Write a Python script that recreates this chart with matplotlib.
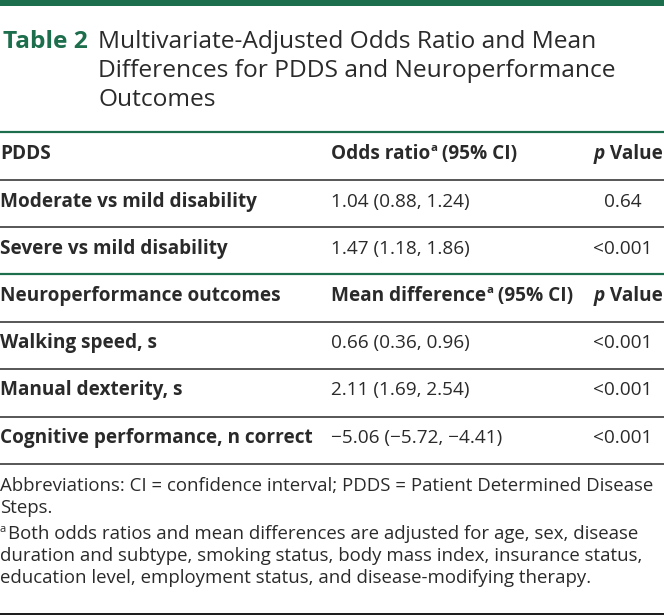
import matplotlib
matplotlib.use("Agg")
import matplotlib.pyplot as plt
from matplotlib import font_manager

# ---- data ----
table_label = "Table 2"
title_lines = ["Multivariate-Adjusted Odds Ratio and Mean",
               "Differences for PDDS and Neuroperformance",
               "Outcomes"]
pdds_rows = ["Moderate vs mild disability", "Severe vs mild disability"]
pdds_or_ci = ["1.04 (0.88, 1.24)", "1.47 (1.18, 1.86)"]
pdds_p = ["0.64", "<0.001"]
neuro_rows = ["Walking speed, s", "Manual dexterity, s", "Cognitive performance, n correct"]
neuro_md_ci = ["0.66 (0.36, 0.96)", "2.11 (1.69, 2.54)", "\u22125.06 (\u22125.72, \u22124.41)"]
neuro_p = ["<0.001", "<0.001", "<0.001"]
footnote_lines = [
    "Abbreviations: CI = confidence interval; PDDS = Patient Determined Disease",
    "Steps.",
    "Both odds ratios and mean differences are adjusted for age, sex, disease",
    "duration and subtype, smoking status, body mass index, insurance status,",
    "education level, employment status, and disease-modifying therapy.",
]

GREEN = "#1d6e4c"
TXT = "#2a2a2a"
GRAY = "#5a5a5a"
FONT = "Open Sans"
names = {f.name for f in font_manager.fontManager.ttflist}
NARROW = "Liberation Sans Narrow" if "Liberation Sans Narrow" in names else FONT

W, H = 664, 615
fig = plt.figure(figsize=(W / 100, H / 100), dpi=100)
ax = fig.add_axes([0, 0, 1, 1])
ax.set_xlim(0, W)
ax.set_ylim(H, 0)
ax.axis("off")
fig.canvas.draw()
renderer = fig.canvas.get_renderer()


def px(v):
    return v * 0.72


def hline(y, color, lw_px):
    ax.plot([0, W], [y, y], color=color, lw=px(lw_px), solid_capstyle="butt")


def width_of(t):
    bb = t.get_window_extent(renderer=renderer)
    return bb.width


def pieces(x, y, parts, align="left"):
    """parts: list of (text, dict(fontsize, weight, style, dy))"""
    objs = []
    for s, kw in parts:
        kw = dict(kw)
        dy = kw.pop("dy", 0)
        t = ax.text(0, y + dy, s, va="center", ha="left", family=FONT, color=TXT, **kw)
        objs.append(t)
    widths = [width_of(t) for t in objs]
    total = sum(widths)
    start = x if align == "left" else (x - total if align == "right" else x - total / 2)
    cx = start
    for t, w in zip(objs, widths):
        t.set_x(cx)
        cx += w
    return objs


# top bar
ax.add_patch(plt.Rectangle((0, 0), W, 6, color=GREEN, lw=0))

# title
TS = px(24.5)
ax.text(3, 42, table_label, family=FONT, weight="bold", fontsize=TS, color=GREEN, va="center")
for i, line in enumerate(title_lines):
    ax.text(98, 42 + i * 29, line, family=FONT, fontsize=TS, color=TXT, va="center")

FS = px(19)
B = dict(fontsize=FS, weight="bold")
R = dict(fontsize=FS)
SUP = dict(fontsize=FS * 0.6, weight="bold", dy=-5.5)

C1, C2, C3 = 0, 331, 663
PC = 623

hline(132, GREEN, 2.2)
# PDDS header
ax.text(C1, 154, "PDDS", family=FONT, color=TXT, va="center", **B)
pieces(C2, 154, [("Odds ratio", B), ("a", SUP), (" (95% CI)", B)])
pieces(C3, 154, [("p", dict(fontsize=FS, weight="bold", style="italic")), (" Value", B)], align="right")
hline(179.5, GRAY, 2)

ys = [202, 249]
for i, (lab, ci, p) in enumerate(zip(pdds_rows, pdds_or_ci, pdds_p)):
    ax.text(C1, ys[i], lab, family=FONT, color=TXT, va="center", **B)
    ax.text(C2, ys[i], ci, family=FONT, color=TXT, va="center", **R)
    ax.text(PC, ys[i], p, family=FONT, color=TXT, va="center", ha="center", **R)
    if i == 0:
        hline(226.5, GRAY, 2)
hline(274, GREEN, 2.2)

# Neuro header
ax.text(C1, 296, "Neuroperformance outcomes", family=FONT, color=TXT, va="center", **B)
pieces(C2, 296, [("Mean difference", B), ("a", SUP), (" (95% CI)", B)])
pieces(C3, 296, [("p", dict(fontsize=FS, weight="bold", style="italic")), (" Value", B)], align="right")
hline(321.5, GRAY, 2)

ys = [343, 390, 438]
lines_after = [369, 416.5, 464]
for i, (lab, ci, p) in enumerate(zip(neuro_rows, neuro_md_ci, neuro_p)):
    ax.text(C1, ys[i], lab, family=FONT, color=TXT, va="center", **B)
    ax.text(C2, ys[i], ci, family=FONT, color=TXT, va="center", **R)
    ax.text(PC, ys[i], p, family=FONT, color=TXT, va="center", ha="center", **R)
    hline(lines_after[i], GRAY, 2)

# footnotes
NS = px(18.6)
fys = [486, 508, 534, 556, 578]
for i, line in enumerate(footnote_lines):
    x0 = 0
    if i == 2:
        ax.text(0, fys[i] - 5, "a", family=NARROW, fontsize=NS * 0.6, color=TXT, va="center")
        x0 = 8
    ax.text(x0, fys[i], line, family=NARROW, fontsize=NS, color=TXT, va="center")

ax.add_patch(plt.Rectangle((0, 612.5), W, 2.5, color="#1e1e1e", lw=0))

fig.savefig("out.png", dpi=100)
